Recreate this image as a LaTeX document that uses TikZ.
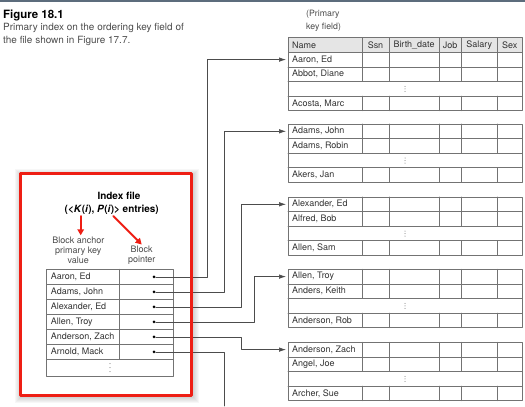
\documentclass[tikz,border=0pt]{standalone}
\usepackage{fontspec}
\setmainfont{TeX Gyre Heros}
\usetikzlibrary{arrows.meta,positioning}
\definecolor{annot}{RGB}{238,30,20}
\definecolor{toprule}{RGB}{92,108,124}
\begin{document}
\begin{tikzpicture}[x=1bp,y=-1bp,line cap=round,line join=round,>={Latex[length=7bp,width=4.5bp]},
  grid/.style={draw=black!55,line width=0.7bp},
  ptr/.style={draw=black!70,line width=0.6bp},
  cell/.style={anchor=west,inner xsep=4bp,inner ysep=0pt,text=black!80,font=\fontsize{9}{10}\selectfont},
  hcell/.style={inner sep=0pt,text=black!80,font=\fontsize{9}{10}\selectfont},
  ptrdot/.style={circle,fill=black,inner sep=0pt,minimum size=3bp},
  lbl/.style={align=center,inner sep=1pt,text=black!70,font=\fontsize{9}{10.2}\selectfont},
  redarrow/.style={draw=annot,line width=2bp,-{Triangle[length=6bp,width=6.5bp]}}]
  \useasboundingbox (0,0) rectangle (525,406);
  \draw[toprule,line width=1.5bp] (0,1) -- (525,1);
  \node[anchor=west,inner sep=0pt,font=\bfseries\fontsize{11.5}{13}\selectfont] (fig) at (3,15) {Figure 18.1};
  \node[anchor=north west,align=left,inner sep=0pt,text=black!70,font=\fontsize{10}{13}\selectfont] (cap) at (3,23) {Primary index on the ordering key field of\\the file shown in Figure 17.7.};
  \node[anchor=north west,align=left,inner sep=0pt,text=black!70,font=\fontsize{8.8}{12.5}\selectfont] (pk) at (306,10) {(Primary\\key field)};
  \fill[black!10] (288,37.7) rectangle (522,52.3);
  \draw[grid] (288,37.7) rectangle (522,52.3);
  \foreach \x in {362,389,439,461,497.5} \draw[grid] (\x,37.7) -- (\x,52.3);
  \node[cell] (hname) at (288,45) {Name};
  \foreach \a/\b/\t/\c in {362/389/Ssn/hssn,389/439/Birth\_date/hbirth,439/461/Job/hjob,461/497.5/Salary/hsal,497.5/522/Sex/hsex}
    \node[hcell] (\c) at ({(\a+\b)/2},45) {\t};
  \foreach \k/\t/\na/\nb/\nc in {1/52.3/{Aaron, Ed}/{Abbot, Diane}/{Acosta, Marc},
      2/124/{Adams, John}/{Adams, Robin}/{Akers, Jan},
      3/197/{Alexander, Ed}/{Alfred, Bob}/{Allen, Sam},
      4/269.3/{Allen, Troy}/{Anders, Keith}/{Anderson, Rob},
      5/342.3/{Anderson, Zach}/{Angel, Joe}/{Archer, Sue}}{
    \draw[grid] (288,\t) rectangle (522,\t+58.4);
    \foreach \r in {14.6,29.2,43.8} \draw[grid] (288,\t+\r) -- (522,\t+\r);
    \foreach \x in {362,389,439,461,497.5} {
      \draw[grid] (\x,\t) -- (\x,\t+29.2);
      \draw[grid] (\x,\t+43.8) -- (\x,\t+58.4);
    }
    \node[cell] (b\k) at (288,\t+7.3) {\na};
    \node[cell] (c\k) at (288,\t+21.9) {\nb};
    \node[cell] (e\k) at (288,\t+51.1) {\nc};
    \foreach \d in {-2.5,0,2.5} \fill[black!60] (405,\t+36.5+\d) circle (0.5);
  }
  \foreach \s in {1,...,6} \fill[black,opacity=0.03] (20.7-\s,173.3-\s+1.5) rectangle (191.7+\s+1,395+\s+1.5);
  \fill[white] (20.7,173.3) rectangle (191.7,395);
  \node[font=\bfseries\fontsize{10}{12}\selectfont] (ixf) at (119,195.7) {Index file};
  \node[font=\bfseries\fontsize{10}{12}\selectfont] (ent) at (111.7,210) {(<\textit{K}(\textit{i}), \textit{P}(\textit{i})> entries)};
  \node[lbl] (anc) at (78.3,250) {Block anchor\\primary key\\value};
  \node[lbl] (bpt) at (141.7,255) {Block\\pointer};
  \coordinate (ka) at (80.7,216);
  \coordinate (pa) at (113.3,216);
  \draw[redarrow] (ka) -- (ka |- anc.north);
  \draw[redarrow] (pa) -- (bpt.north);
  \draw[grid] (46.7,269.3) rectangle (173.3,376);
  \draw[grid] (119,269.3) -- (119,359.3);
  \foreach \r in {1,...,6} \draw[grid] (46.7,269.3+15*\r) -- (173.3,269.3+15*\r);
  \foreach \n/\s in {1/{Aaron, Ed},2/{Adams, John},3/{Alexander, Ed},4/{Allen, Troy},5/{Anderson, Zach},6/{Arnold, Mack}}{
    \node[cell] (i\n) at (46.7,261.8+15*\n) {\s};
    \node[ptrdot] (p\n) at (154,261.8+15*\n) {};
  }
  \foreach \d in {-4,0,4} \fill[black!60] (110,367.6+\d) circle (0.55);
  \coordinate (l1) at (207.3,0);
  \coordinate (l2) at (224.3,0);
  \coordinate (l3) at (241,0);
  \coordinate (l4) at (254.3,0);
  \coordinate (nxt) at (224.3,406);
  \draw[ptr,->,shorten >=2bp] (p1) -- (p1 -| l1) |- (b1.west);
  \draw[ptr,->,shorten >=2bp] (p2) -- (p2 -| l2) |- (b2.west);
  \draw[ptr,->,shorten >=2bp] (p3) -- (p3 -| l3) |- (b3.west);
  \draw[ptr,->,shorten >=2bp] (p4) -- (p4 -| l4) |- (b4.west);
  \draw[ptr,->,shorten >=2bp] (p5) -- (p5 -| l3) |- (b5.west);
  \draw[ptr] (p6) -- (p6 -| nxt) -- (nxt);
  \draw[annot,line width=3bp] (20.7,173.3) rectangle (191.7,395);
\end{tikzpicture}
\end{document}
